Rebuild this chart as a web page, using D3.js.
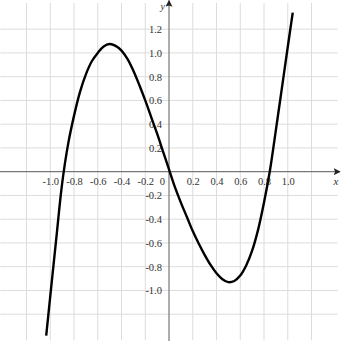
<!DOCTYPE html>
<html>
<head>
<meta charset="utf-8">
<script src="https://cdn.jsdelivr.net/npm/d3@7"></script>
<style>
  body { margin: 0; background: #fff; }
  svg text { font-family: "Liberation Serif", "DejaVu Serif", serif; }
</style>
</head>
<body>
<div id="container"></div>
<script>
/* CONSTANTS AND GLOBALS */
const width = 341;
const height = 341;

// tick labels
const xTicks = [-1.0, -0.8, -0.6, -0.4, -0.2, 0.2, 0.4, 0.6, 0.8, 1.0];
const yTicks = [-1.0, -0.8, -0.6, -0.4, -0.2, 0.2, 0.4, 0.6, 0.8, 1.0, 1.2];
const gridValues = [-1.2, -1.0, -0.8, -0.6, -0.4, -0.2, 0.2, 0.4, 0.6, 0.8, 1.0, 1.2];

// curve
const curveX = [-1.034, -1.0, -0.95, -0.9, -0.85, -0.8, -0.75, -0.7, -0.65, -0.6, -0.55, -0.5,
  -0.45, -0.4, -0.35, -0.3, -0.25, -0.2, -0.15, -0.1, -0.05, 0,
  0.05, 0.1, 0.15, 0.2, 0.25, 0.3, 0.35, 0.4, 0.45, 0.5,
  0.55, 0.6, 0.65, 0.7, 0.75, 0.8, 0.85, 0.9, 0.95, 1.0, 1.042];
const curveY = [-1.38, -1.05, -0.57, -0.10, 0.23, 0.47, 0.67, 0.82, 0.93, 1.0, 1.055, 1.075,
  1.06, 1.02, 0.95, 0.85, 0.73, 0.60, 0.46, 0.32, 0.17, 0.02,
  -0.13, -0.26, -0.38, -0.50, -0.605, -0.70, -0.785, -0.855, -0.905, -0.93,
  -0.92, -0.875, -0.79, -0.665, -0.49, -0.26, 0.01, 0.35, 0.70, 1.05, 1.34];

/* SCALES */
const xScale = d3.scaleLinear().domain([-1.2, 1.2]).range([26.5, 311.5]);
const yScale = d3.scaleLinear().domain([-1.2, 1.2]).range([314.2, 29.2]);
const x0 = xScale(0), y0 = yScale(0);

const svg = d3.select("#container")
  .append("svg")
  .attr("width", width)
  .attr("height", height);

// grid
const gridG = svg.append("g").attr("stroke", "#dcdcdc").attr("stroke-width", 1);
gridG.selectAll("line.v")
  .data(gridValues)
  .join("line")
  .attr("class", "v")
  .attr("x1", d => xScale(d)).attr("x2", d => xScale(d))
  .attr("y1", yScale(1.42)).attr("y2", yScale(-1.42));
gridG.selectAll("line.h")
  .data(gridValues)
  .join("line")
  .attr("class", "h")
  .attr("y1", d => yScale(d)).attr("y2", d => yScale(d))
  .attr("x1", xScale(-1.42)).attr("x2", xScale(1.42));

// axes with arrowheads
svg.append("defs").append("marker")
  .attr("id", "arrow")
  .attr("viewBox", "0 0 10 10")
  .attr("refX", 9).attr("refY", 5)
  .attr("markerWidth", 7).attr("markerHeight", 7)
  .attr("markerUnits", "userSpaceOnUse")
  .attr("orient", "auto")
  .append("path")
  .attr("d", "M0,0 L10,5 L0,10 L2,5 Z")
  .attr("fill", "#222");

svg.append("line")
  .attr("x1", 0).attr("x2", 340)
  .attr("y1", y0).attr("y2", y0)
  .attr("stroke", "#777").attr("stroke-width", 1.2)
  .attr("marker-end", "url(#arrow)");
svg.append("line")
  .attr("x1", x0).attr("x2", x0)
  .attr("y1", height).attr("y2", 0.5)
  .attr("stroke", "#777").attr("stroke-width", 1.2)
  .attr("marker-end", "url(#arrow)");

const fmt = d3.format(".1f");

// x tick labels
const xAxis = d3.axisBottom(xScale).tickValues(xTicks).tickSize(0).tickPadding(6).tickFormat(d => fmt(d).replace("−", "-"));
const gx = svg.append("g").attr("transform", `translate(0,${y0})`).call(xAxis);
gx.select(".domain").remove();
gx.selectAll("text").attr("font-family", "Liberation Serif, serif").attr("font-size", 10.5).attr("fill", "#333");

// y tick labels
const yAxis = d3.axisLeft(yScale).tickValues(yTicks).tickSize(0).tickPadding(7).tickFormat(d => fmt(d).replace("−", "-"));
const gy = svg.append("g").attr("transform", `translate(${x0},0)`).call(yAxis);
gy.select(".domain").remove();
gy.selectAll("text").attr("font-family", "Liberation Serif, serif").attr("font-size", 10.5).attr("fill", "#333");

// origin label and axis names
svg.append("text").attr("x", x0 - 4).attr("y", y0 + 13.5)
  .attr("text-anchor", "end").attr("font-size", 10.5).attr("fill", "#333").text("0");
svg.append("text").attr("x", 336).attr("y", y0 + 13.5)
  .attr("text-anchor", "middle").attr("font-size", 11).attr("font-style", "italic").attr("fill", "#333").text("x");
svg.append("text").attr("x", x0 - 4).attr("y", 9.5)
  .attr("text-anchor", "end").attr("font-size", 10).attr("font-style", "italic").attr("fill", "#333").text("y");

// curve
const pts = curveX.map((d, i) => [d, curveY[i]]);
const line = d3.line()
  .x(d => xScale(d[0]))
  .y(d => yScale(d[1]))
  .curve(d3.curveCatmullRom.alpha(0.5));
svg.append("path")
  .datum(pts)
  .attr("d", line)
  .attr("fill", "none")
  .attr("stroke", "#000")
  .attr("stroke-width", 2.4)
  .attr("stroke-linejoin", "round");
</script>
</body>
</html>
